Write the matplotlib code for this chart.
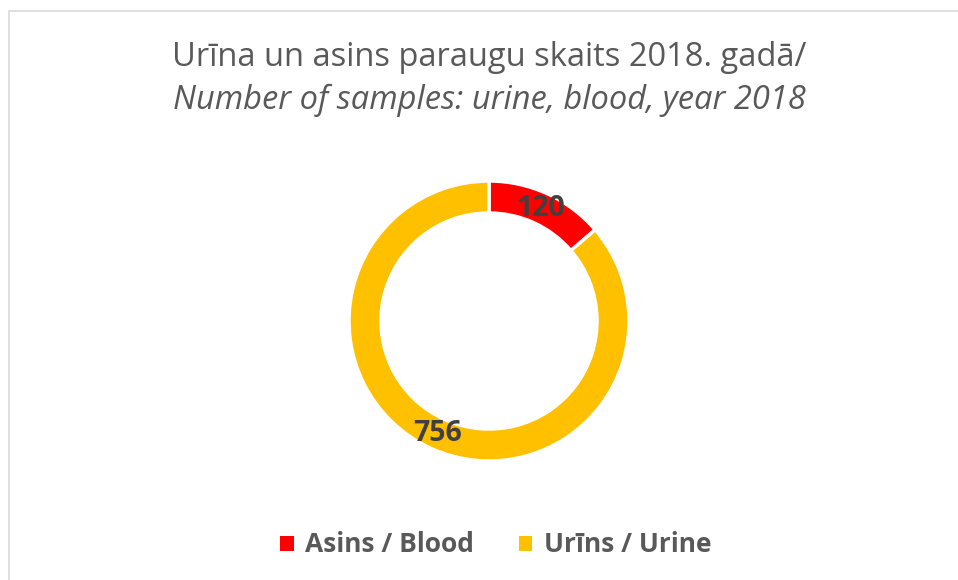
import matplotlib.pyplot as plt
from matplotlib.patches import Rectangle

labels = ["Asins / Blood", "Urīns / Urine"]
counts = [120, 756]
colors = ["#FF0000", "#FFC000"]
title_lv = "Urīna un asins paraugu skaits 2018. gadā/"
title_en = "Number of samples: urine, blood, year 2018"

W, H = 958, 580
plt.rcParams["font.family"] = ["Open Sans", "DejaVu Sans"]

fig = plt.figure(figsize=(W / 100, H / 100), dpi=100)
fig.patch.set_facecolor("white")

# light frame around the chart area
fig.add_artist(Rectangle((8.5 / W, -0.05), 1.2, 1 - 11 / H + 0.05,
                         transform=fig.transFigure, fill=False,
                         edgecolor="#D9D9D9", linewidth=1.2))

cx, cy, half = 489, 321, 150
ax = fig.add_axes([(cx - half) / W, (H - cy - half) / H, 2 * half / W, 2 * half / H])
r_out, ring = 140, 32

wedges, _, autotexts = ax.pie(
    counts, colors=colors, startangle=90, counterclock=False,
    radius=r_out, wedgeprops=dict(width=ring, edgecolor="white", linewidth=2.5),
    autopct=lambda p: "%d" % round(p * sum(counts) / 100),
    pctdistance=(r_out - ring / 2) / r_out,
    textprops=dict(color="#404040", fontsize=20.5, fontweight="bold"))
ax.set_xlim(-half, half)
ax.set_ylim(-half, half)
ax.set_aspect("equal")
ax.axis("off")

fig.text(cx / W, 1 - 57 / H, title_lv, ha="center", va="center",
         fontsize=23.5, color="#595959")
fig.text(cx / W, 1 - 100 / H, title_en, ha="center", va="center",
         fontsize=23.5, color="#595959", style="italic")

leg = fig.legend(wedges, labels, loc="center", bbox_to_anchor=(496 / W, 1 - 545 / H),
                 ncol=2, frameon=False, handlelength=0.5, handleheight=0.5,
                 handletextpad=0.45, columnspacing=1.7,
                 prop=dict(size=19, weight="bold"))
for t in leg.get_texts():
    t.set_color("#595959")
for h in leg.legend_handles:
    h.set_edgecolor("none")

fig.savefig("out.png", dpi=100)
